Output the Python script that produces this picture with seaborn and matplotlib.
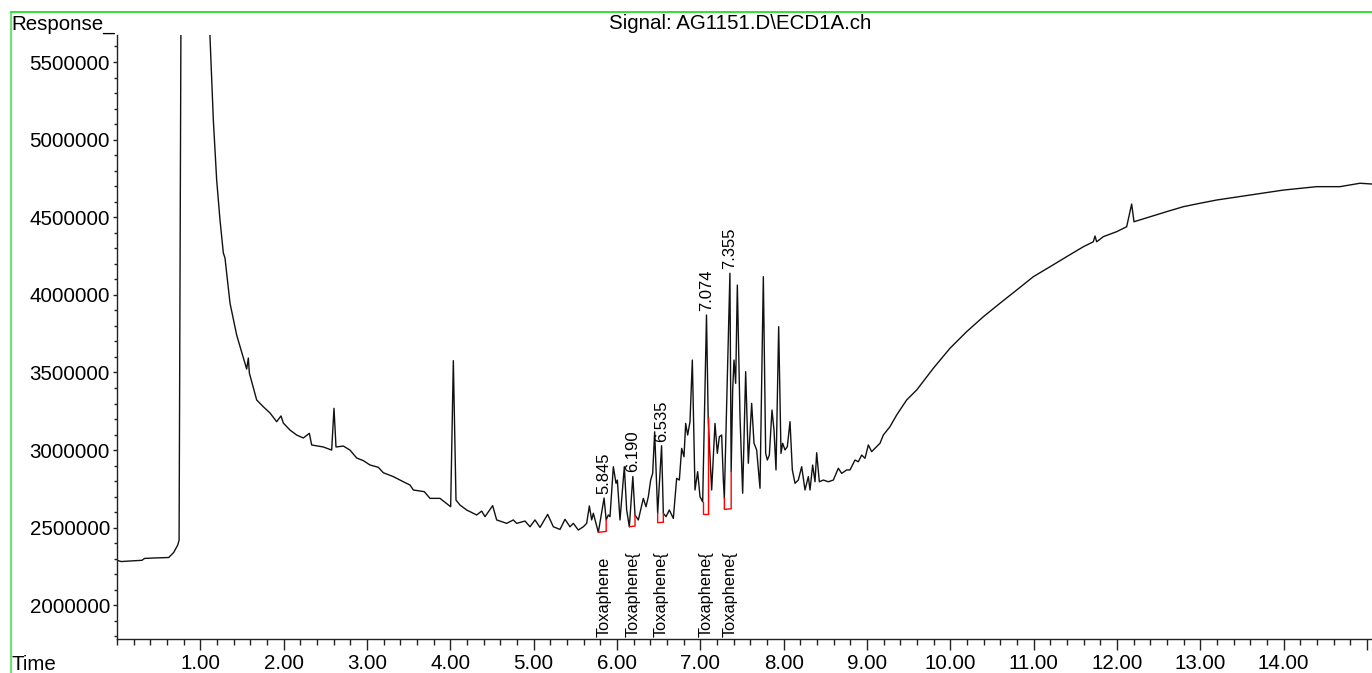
import numpy as np
import pandas as pd
import matplotlib
matplotlib.use("Agg")
import matplotlib.pyplot as plt
from matplotlib.ticker import FixedLocator, MultipleLocator, FuncFormatter
from matplotlib.lines import Line2D
import seaborn as sns

# ---- ECD signal, retention time (min) and detector response ----
# baseline before injection and the off-scale solvent front
front_time = [0.000, 0.050, 0.150, 0.300, 0.330, 0.450, 0.620, 0.680, 0.730,
              0.745, 0.768, 0.790, 1.060, 1.100]
front_resp = [2290000, 2282000, 2285000, 2290000, 2302000, 2305000, 2308000,
              2340000, 2390000, 2420000, 5700000, 20000000, 20000000, 6400000]

# solvent tail and early baseline
tail_time = [1.116, 1.156, 1.196, 1.236, 1.276, 1.296, 1.356, 1.436, 1.556,
             1.576, 1.588, 1.676, 1.756, 1.836, 1.916, 1.968, 1.996, 2.076,
             2.156, 2.236, 2.308, 2.336, 2.476, 2.576, 2.604, 2.628, 2.716,
             2.796, 2.876, 2.956, 3.036, 3.136, 3.196, 3.316, 3.436, 3.516,
             3.556, 3.688, 3.756, 3.876, 4.004, 4.036, 4.068, 4.116, 4.196,
             4.316, 4.376, 4.416, 4.508, 4.556, 4.676, 4.756, 4.796, 4.896,
             4.956, 5.016, 5.076, 5.168, 5.236, 5.316, 5.376, 5.436, 5.476,
             5.536]
tail_resp = [5661000, 5126000, 4740000, 4482000, 4270000, 4237000, 3947000,
             3741000, 3522000, 3593000, 3497000, 3323000, 3279000, 3239000,
             3183000, 3220000, 3174000, 3129000, 3097000, 3078000, 3108000,
             3033000, 3020000, 3000000, 3269000, 3020000, 3026000, 3000000,
             2949000, 2932000, 2904000, 2889000, 2854000, 2829000, 2796000,
             2775000, 2743000, 2732000, 2689000, 2689000, 2635000, 3576000,
             2678000, 2646000, 2614000, 2582000, 2607000, 2571000, 2642000,
             2550000, 2528000, 2550000, 2528000, 2543000, 2506000, 2550000,
             2502000, 2586000, 2506000, 2489000, 2554000, 2506000, 2528000,
             2485000]

# toxaphene congener cluster
cluster_time = [5.596, 5.636, 5.668, 5.696, 5.716, 5.776, 5.845, 5.870, 5.896,
                5.916, 5.956, 5.988, 6.004, 6.036, 6.088, 6.116, 6.148, 6.190,
                6.216, 6.256, 6.316, 6.348, 6.376, 6.404, 6.428, 6.452, 6.488,
                6.535, 6.556, 6.588, 6.628, 6.676, 6.716, 6.748, 6.776, 6.804,
                6.824, 6.848, 6.876, 6.904, 6.936, 6.968, 6.996, 7.028, 7.074,
                7.094, 7.112, 7.136, 7.176, 7.204, 7.228, 7.256, 7.276, 7.288,
                7.355, 7.370, 7.388, 7.404, 7.424, 7.444, 7.476, 7.508, 7.544,
                7.576, 7.616, 7.644, 7.676, 7.716, 7.756, 7.784, 7.804, 7.828,
                7.860, 7.884, 7.908, 7.940, 7.968, 7.988, 8.016, 8.044, 8.076,
                8.104, 8.136, 8.176, 8.216, 8.256, 8.296, 8.316, 8.348, 8.376,
                8.396, 8.428, 8.476, 8.536, 8.596, 8.656, 8.696, 8.756]
cluster_resp = [2506000, 2528000, 2640000, 2550000, 2593000, 2470000, 2691000,
                2550000, 2582000, 2571000, 2893000, 2786000, 2807000, 2550000,
                2893000, 2614000, 2506000, 2830000, 2582000, 2550000, 2689000,
                2635000, 2700000, 2807000, 2850000, 3118000, 2593000, 3028000,
                2593000, 2571000, 2614000, 2560000, 2818000, 2807000, 3011000,
                2957000, 3172000, 3097000, 3183000, 3580000, 2743000, 2861000,
                2700000, 2667000, 3870000, 3215000, 3000000, 2743000, 3172000,
                2979000, 3086000, 3097000, 2807000, 2689000, 4139000, 2861000,
                3387000, 3580000, 3430000, 4063000, 3215000, 2722000, 3505000,
                2915000, 3301000, 3044000, 3001000, 2754000, 4117000, 2979000,
                2936000, 2968000, 3258000, 3129000, 2872000, 3795000, 2979000,
                3044000, 3001000, 3022000, 3183000, 2872000, 2786000, 2807000,
                2893000, 2743000, 2829000, 2743000, 2904000, 2796000, 2983000,
                2796000, 2807000, 2796000, 2807000, 2883000, 2850000, 2872000]

# oven-ramp baseline rise to end of run
late_time = [8.796, 8.856, 8.896, 8.936, 8.976, 9.016, 9.056, 9.156, 9.196,
             9.276, 9.356, 9.476, 9.596, 9.796, 9.996, 10.196, 10.396, 10.596,
             10.796, 10.996, 11.196, 11.396, 11.596, 11.716, 11.736, 11.756,
             11.836, 11.996, 12.116, 12.176, 12.204, 12.396, 12.596, 12.796,
             12.996, 13.196, 13.596, 13.996, 14.396, 14.676, 14.916, 15.060]
late_resp = [2872000, 2936000, 2925000, 2968000, 2947000, 3033000, 2990000,
             3044000, 3097000, 3151000, 3226000, 3323000, 3387000, 3527000,
             3656000, 3763000, 3859000, 3946000, 4031000, 4117000, 4181000,
             4246000, 4310000, 4342000, 4379000, 4342000, 4375000, 4407000,
             4439000, 4585000, 4471000, 4503000, 4536000, 4568000, 4590000,
             4611000, 4643000, 4675000, 4697000, 4697000, 4719000, 4714000]

# integrated peaks (compound names as printed by the data system)
peak_rt = [5.845, 6.190, 6.535, 7.074, 7.355]
peak_apex = [2691000, 2830000, 3028000, 3870000, 4139000]
peak_name = ["Toxaphene", "Toxaphene{", "Toxaphene{", "Toxaphene{", "Toxaphene{"]
# integration baselines: start / end time, baseline level, signal level
base_t0 = [5.776, 6.148, 6.488, 7.028, 7.288]
base_r0 = [2470000, 2506000, 2532000, 2588000, 2618000]
sig_r0 = [2470000, 2506000, 2593000, 2667000, 2689000]
base_t1 = [5.870, 6.216, 6.556, 7.094, 7.370]
base_r1 = [2476000, 2511000, 2535000, 2588000, 2622000]
sig_r1 = [2550000, 2582000, 2593000, 3215000, 2861000]

y_ticks = [2000000, 2500000, 3000000, 3500000, 4000000, 4500000, 5000000, 5500000]
x_ticks = [1, 2, 3, 4, 5, 6, 7, 8, 9, 10, 11, 12, 13, 14, 15]

signal = pd.DataFrame({
    "time": front_time + tail_time + cluster_time + late_time,
    "response": front_resp + tail_resp + cluster_resp + late_resp,
})

sns.set_style("ticks")
plt.rcParams["font.family"] = ["Liberation Sans", "DejaVu Sans"]
plt.rcParams["text.color"] = "black"
plt.rcParams["xtick.color"] = "black"
plt.rcParams["ytick.color"] = "black"

W, H = 1372, 673
fig = plt.figure(figsize=(W / 100, H / 100), dpi=100)
ax = fig.add_axes([117 / W, 34 / H, 1 - 117 / W, 604 / H])

sns.lineplot(data=signal, x="time", y="response", ax=ax, color="#111111",
             lw=1.0, estimator=None, sort=False)

# integration baselines with drop lines
for t0, r0, s0, t1, r1, s1 in zip(base_t0, base_r0, sig_r0, base_t1, base_r1, sig_r1):
    ax.plot([t0, t0, t1, t1], [s0, r0, r1, s1], color="#ff0000", lw=1.0,
            solid_joinstyle="miter")

# retention-time labels over the peaks, compound names at the base
for rt, apex, name in zip(peak_rt, peak_apex, peak_name):
    ax.annotate(f"{rt:.3f}", xy=(rt, apex), xytext=(0, 3),
                textcoords="offset points", rotation=90, ha="center",
                va="bottom", fontsize=12)
    ax.annotate(name, xy=(rt, 0), xycoords=("data", "axes fraction"),
                xytext=(0, 1.5), textcoords="offset points", rotation=90,
                ha="center", va="bottom", fontsize=11.8)

ax.set_xlim(0, 15.06)
ax.set_ylim(1783000, 5674000)
ax.set_xlabel("")
ax.set_ylabel("")

ax.xaxis.set_major_locator(FixedLocator(x_ticks))
ax.xaxis.set_major_formatter(FuncFormatter(lambda v, p: f"{v:.2f}" if v < 14.5 else ""))
ax.xaxis.set_minor_locator(MultipleLocator(0.2))
ax.yaxis.set_major_locator(FixedLocator(y_ticks))
ax.yaxis.set_major_formatter(FuncFormatter(lambda v, p: f"{int(round(v))}"))
ax.yaxis.set_minor_locator(MultipleLocator(100000))

for side in ("top", "right"):
    ax.spines[side].set_visible(False)
for side in ("left", "bottom"):
    ax.spines[side].set_linewidth(1.0)
    ax.spines[side].set_color("#222222")

ax.tick_params(axis="x", which="major", length=8, width=1, pad=3,
               labelsize=14.8, color="#222222", labelcolor="black")
ax.tick_params(axis="x", which="minor", length=4, width=1, color="#222222")
ax.tick_params(axis="y", which="major", length=3, width=1, pad=2,
               labelsize=14.8, color="#222222", labelcolor="black")
ax.tick_params(axis="y", which="minor", length=2, width=1, color="#222222")

# header and axis captions
fig.text(11 / W, 1 - 30 / H, "Response_", fontsize=14.8, ha="left",
         va="baseline", color="black")
fig.text(740 / W, 1 - 29 / H, "Signal: AG1151.D\\ECD1A.ch", fontsize=14.8,
         ha="center", va="baseline", color="black")
fig.text(11 / W, 3 / H, "Time", fontsize=14.8, ha="left", va="baseline",
         color="black")

# frame of the report panel
fx, fy = 10.5 / W, 1 - 11.5 / H
fig.add_artist(Line2D([fx, fx], [0, fy], transform=fig.transFigure,
                      color="#66e866", lw=1.4))
fig.add_artist(Line2D([fx, 1], [fy, fy], transform=fig.transFigure,
                      color="#33e033", lw=1.4))

fig.savefig("out.png", dpi=100)
